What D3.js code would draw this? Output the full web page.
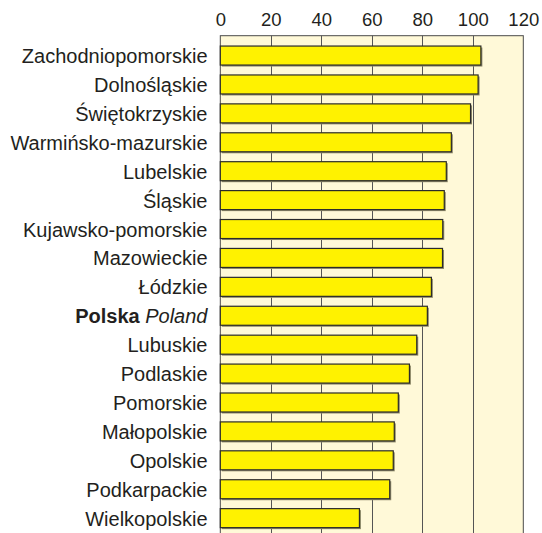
<!DOCTYPE html>
<html>
<head>
<meta charset="utf-8">
<script src="https://cdn.jsdelivr.net/npm/d3@7/dist/d3.min.js"></script>
<style>
  html, body { margin: 0; padding: 0; background: #ffffff; }
  svg { display: block; }
  text { font-family: "Liberation Sans", Arial, Helvetica, sans-serif; fill: #231f20; }
</style>
</head>
<body>
<svg id="chart" width="542" height="533"></svg>
<script>
// Regions (voivodeships) and the national total, top to bottom
const regions = [
  "Zachodniopomorskie", "Dolnośląskie", "Świętokrzyskie", "Warmińsko-mazurskie",
  "Lubelskie", "Śląskie", "Kujawsko-pomorskie", "Mazowieckie", "Łódzkie",
  "Polska", "Lubuskie", "Podlaskie", "Pomorskie", "Małopolskie", "Opolskie",
  "Podkarpackie", "Wielkopolskie"
];
const values = [
  103.2, 102.1, 99.1, 91.5, 89.5, 88.7, 88.1, 88.0, 83.6,
  82.0, 77.8, 74.9, 70.5, 68.9, 68.5, 67.1, 55.1
];
const tickValues = [0, 20, 40, 60, 80, 100, 120];
const totalKey = "Polska";
const totalTranslation = "Poland";

const svg = d3.select("#chart");

const x = d3.scaleLinear().domain([0, 120]).range([220.3, 523.3]);
const y = d3.scaleBand()
  .domain(regions)
  .range([41.1, 532.6])
  .paddingInner(0.3426)
  .paddingOuter(0.1713);

const plotTop = 35.7;
const plotBottom = 545;

// plot background
svg.append("rect")
  .attr("x", x(0))
  .attr("y", plotTop)
  .attr("width", x(120) - x(0))
  .attr("height", plotBottom - plotTop)
  .attr("fill", "#fff9d8")
  .attr("stroke", "#4a4a4a")
  .attr("stroke-width", 1);

// vertical grid lines
svg.append("g")
  .selectAll("line")
  .data(tickValues.slice(1, -1))
  .join("line")
  .attr("x1", d => Math.round(x(d)) + 0.5)
  .attr("x2", d => Math.round(x(d)) + 0.5)
  .attr("y1", plotTop)
  .attr("y2", plotBottom)
  .attr("stroke", "#555555")
  .attr("stroke-width", 1);

// top axis labels
const axis = d3.axisTop(x).tickValues(tickValues).tickSize(0).tickPadding(0);
const axisG = svg.append("g")
  .attr("transform", "translate(0,26)")
  .call(axis);
axisG.select(".domain").remove();
axisG.selectAll("text")
  .attr("dy", 0)
  .attr("font-size", "18.5px")
  .style("font-family", "'Liberation Sans', Arial, sans-serif")
  .attr("fill", "#231f20");

// bar shadows
svg.append("g")
  .selectAll("rect")
  .data(regions)
  .join("rect")
  .attr("x", x(0) + 1.5)
  .attr("y", d => y(d) + 1.5)
  .attr("width", (d, i) => x(values[i]) - x(0))
  .attr("height", y.bandwidth())
  .attr("fill", "#8f8a6a");

// bars
svg.append("g")
  .selectAll("rect")
  .data(regions)
  .join("rect")
  .attr("x", x(0))
  .attr("y", d => y(d))
  .attr("width", (d, i) => x(values[i]) - x(0))
  .attr("height", y.bandwidth())
  .attr("fill", "#fff200")
  .attr("stroke", "#2b2b2b")
  .attr("stroke-width", 1.2);

// category labels
const labels = svg.append("g")
  .selectAll("text")
  .data(regions)
  .join("text")
  .attr("x", 207.5)
  .attr("y", d => y(d) + y.bandwidth() / 2 + 7.5)
  .attr("text-anchor", "end")
  .attr("font-size", "20px");

labels.each(function(d) {
  const t = d3.select(this);
  if (d === totalKey) {
    t.append("tspan").attr("font-weight", "bold").text(d);
    t.append("tspan").attr("font-style", "italic").text(" " + totalTranslation);
  } else {
    t.text(d);
  }
});
</script>
</body>
</html>
